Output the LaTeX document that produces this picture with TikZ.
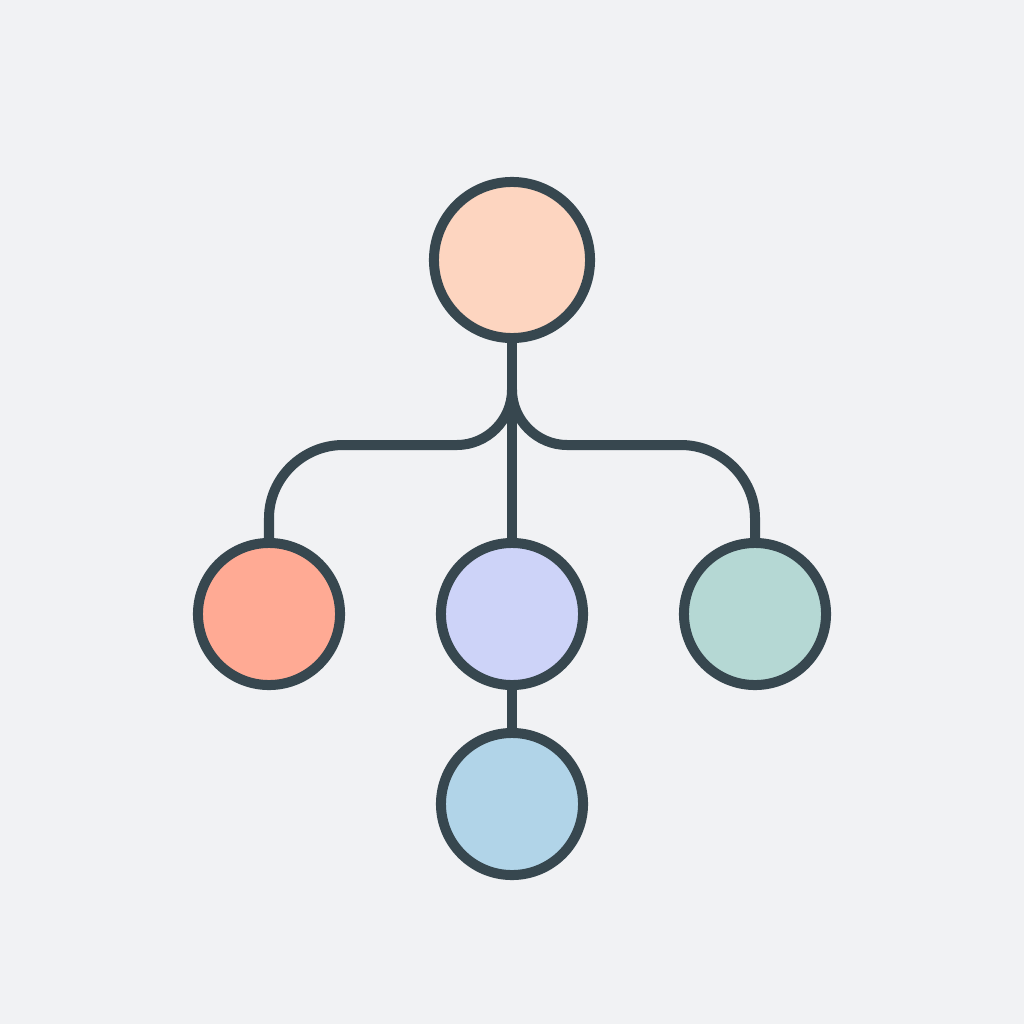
\documentclass[tikz,border=0pt]{standalone}
\begin{document}
\begin{tikzpicture}[x=0.01cm,y=-0.01cm,
  bubble/.style={circle,draw=edge,line width=0.1cm,inner sep=0pt,minimum size=1.42cm},
  link/.style={draw=edge,line width=0.1cm}]
\definecolor{bg}{HTML}{F1F2F4}
\definecolor{edge}{HTML}{37474F}
\definecolor{peach}{HTML}{FDD5C0}
\definecolor{salmon}{HTML}{FFAA94}
\definecolor{lav}{HTML}{CDD3F8}
\definecolor{mint}{HTML}{B5D8D4}
\definecolor{sky}{HTML}{B1D4E8}
\fill[bg] (0,0) rectangle (1024,1024);
\useasboundingbox (0,0) rectangle (1024,1024);
\node[bubble,fill=peach,minimum size=1.56cm] (top) at (512,260) {};
\node[bubble,fill=salmon] (l) at (269,614) {};
\node[bubble,fill=lav] (m) at (512,614) {};
\node[bubble,fill=mint] (r) at (755,614) {};
\node[bubble,fill=sky] (b) at (512,804) {};
\coordinate (j) at (512,390);
\coordinate (la) at (457,445);
\coordinate (lb) at (343,445);
\coordinate (ra) at (567,445);
\coordinate (rb) at (681,445);
\path[link] (top.south) -- (m.north);
\path[link] (j) .. controls (512,420) and (487,445) .. (la) -- (lb)
  .. controls (303,445) and (269,478) .. (269,518) -- (l.north);
\path[link] (j) .. controls (512,420) and (537,445) .. (ra) -- (rb)
  .. controls (721,445) and (755,478) .. (755,518) -- (r.north);
\path[link] (m.south) -- (b.north);
\end{tikzpicture}
\end{document}
